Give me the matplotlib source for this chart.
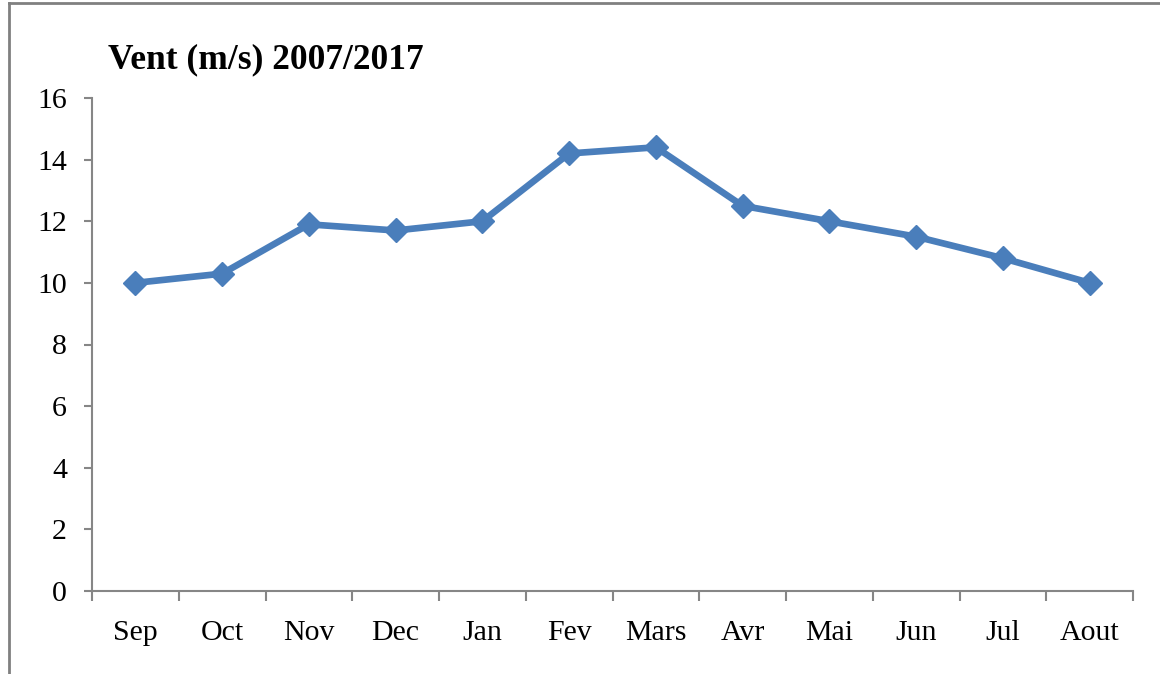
import matplotlib
matplotlib.use("Agg")
import matplotlib.pyplot as plt
from matplotlib.lines import Line2D
import numpy as np

months = ["Sep", "Oct", "Nov", "Dec", "Jan", "Fev", "Mars", "Avr", "Mai", "Jun", "Jul", "Aout"]
wind = [10.0, 10.3, 11.9, 11.7, 12.0, 14.2, 14.4, 12.5, 12.0, 11.5, 10.8, 10.0]
yticks = [0, 2, 4, 6, 8, 10, 12, 14, 16]
title = "Vent (m/s) 2007/2017"

plt.rcParams['font.family'] = ['Liberation Serif', 'DejaVu Serif']

W, H = 1160, 674
fig = plt.figure(figsize=(W/100, H/100), dpi=100)
ax = fig.add_axes([92/W, 1-591/H, (1133-92)/W, (591-98)/H])

x = np.arange(len(months))
ax.plot(x, wind, color='#4a7ebb', lw=4.8, marker='D', ms=12, mfc='#4a7ebb', mec='#4a7ebb')

ax.set_xlim(-0.5, len(months)-0.5)
ax.set_ylim(0, 16)
ax.set_yticks(yticks)
ax.set_yticklabels([str(v) for v in yticks], fontsize=21.5)

ax.set_xticks(np.arange(-0.5, len(months), 1.0))
ax.set_xticklabels([])
ax.set_xticks(x, minor=True)
ax.set_xticklabels(months, minor=True, fontsize=21.5)
ax.tick_params(axis='x', which='minor', length=0, pad=21)
ax.tick_params(axis='x', which='major', length=7, width=1.5, color='#868686', direction='out')
ax.tick_params(axis='y', length=6, width=1.5, color='#868686', direction='out', pad=12)

for s in ['top', 'right']:
    ax.spines[s].set_visible(False)
for s in ['left', 'bottom']:
    ax.spines[s].set_color('#868686')
    ax.spines[s].set_linewidth(1.5)

fig.text(108/W, 1-60/H, title, fontsize=25.5, fontweight='bold', va='center', ha='left')

# outer frame lines
fig.add_artist(Line2D([9/W, 9/W], [0, 1-3/H], transform=fig.transFigure, color='#808080', lw=2))
fig.add_artist(Line2D([9/W, 1], [1-3/H, 1-3/H], transform=fig.transFigure, color='#808080', lw=2))

fig.savefig("out.png", dpi=100)
